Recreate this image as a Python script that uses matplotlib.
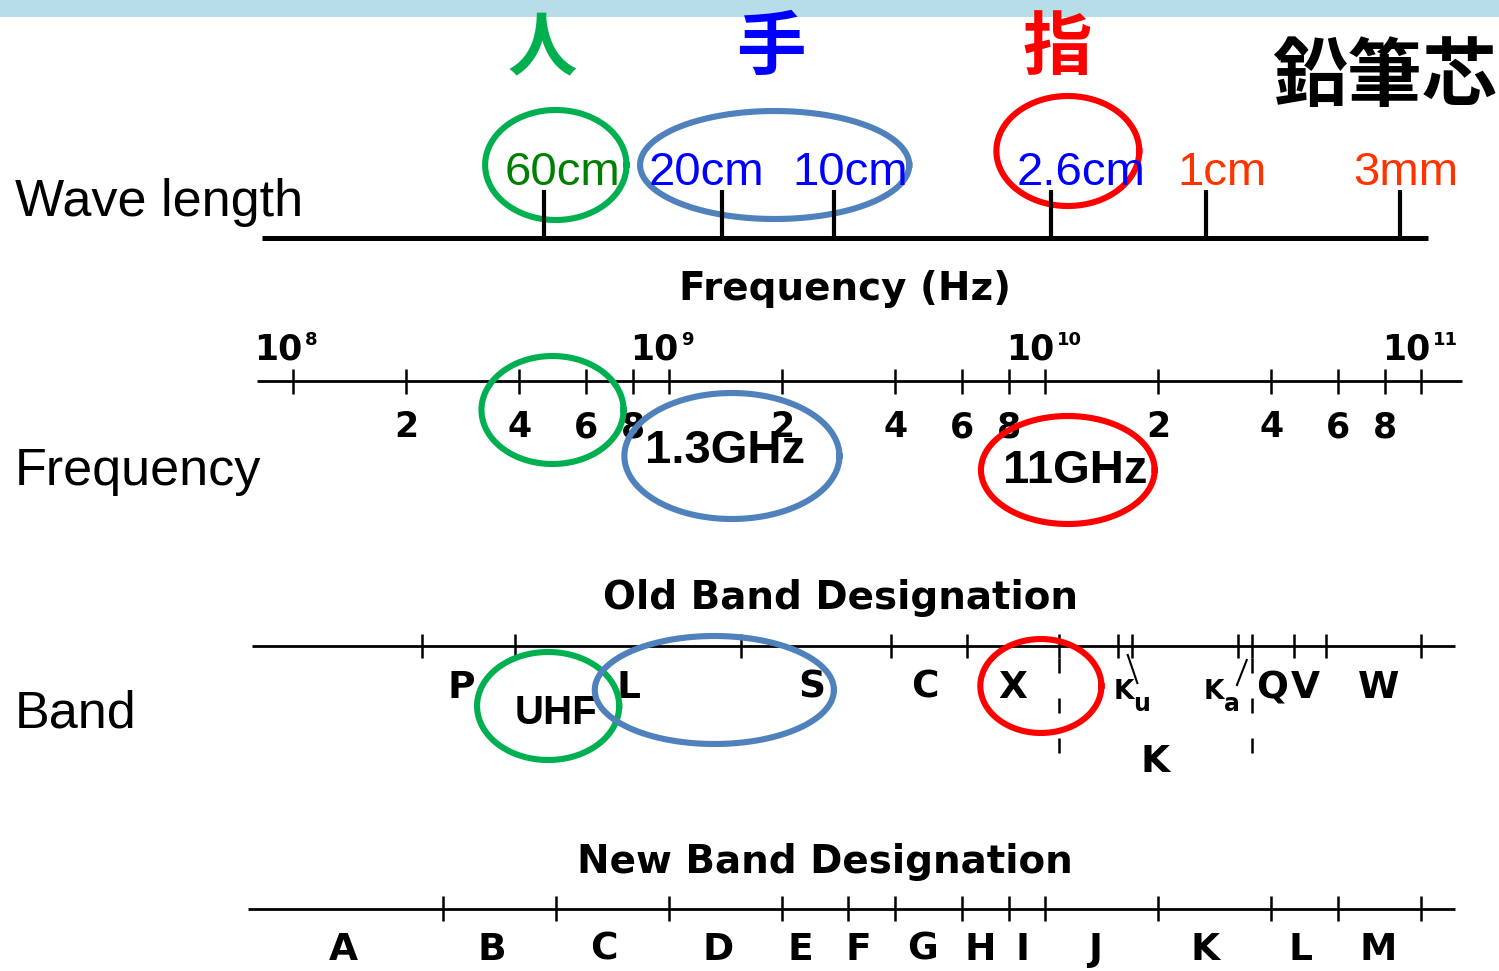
import numpy as np
import matplotlib
matplotlib.use('Agg')
import matplotlib.pyplot as plt

plt.rcParams['font.family'] = ['Liberation Sans', 'DejaVu Sans']
plt.rcParams['mathtext.fontset'] = 'dejavusans'

W, H = 1499, 971
C = 3e8  # m/s

# ---- data ----
wave_m = [0.60, 0.20, 0.10, 0.026, 0.01, 0.003]
wave_labels = ['60cm', '20cm', '10cm', '2.6cm', '1cm', '3mm']
wave_colors = ['#008000', '#0000ff', '#0000ff', '#0000ff', '#ff3300', '#ff3300']

decade_exp = [8, 9, 10, 11]
sub_marks = [2, 4, 6, 8]

old_edges_ghz = [0.22, 0.39, 1.55, 3.9, 6.2, 10.9, 15.6, 17.0, 32.6, 35.5, 46, 56, 100]
old_labels = ['P', 'L', 'S', 'C', 'X', 'Q', 'V', 'W']
old_label_ghz = [0.28, 0.78, 2.4, 4.8, 8.2, 40.2, 49.1, 77]
k_sub_labels = ['u', 'a']          # K_u, K_a
k_sub_ghz = [16.2, 28.1]
k_band_ghz = [10.9, 35.5]         # dashed K band limits
k_label_ghz = 19.6

new_edges_ghz = [0.25, 0.5, 1, 2, 3, 4, 6, 8, 10, 20, 40, 60, 100]
new_labels = ['A', 'B', 'C', 'D', 'E', 'F', 'G', 'H', 'I', 'J', 'K', 'L', 'M']
new_label_ghz = [0.136, 0.338, 0.671, 1.35, 2.24, 3.18, 4.71, 6.72, 8.69, 13.6, 26.7, 47.7, 77]

# highlighted examples
cjk_words = ['人', '手', '指', '鉛筆芯']
cjk_ghz = [0.46, 1.87, 10.8, 80]
cjk_colors = ['#00b050', '#0000ff', '#ff0000', 'black']

circle_colors = ['#00b050', '#4f81bd', '#ff0000']
wave_circle_ghz = [0.50, 1.91, 11.5]
freq_circle_ghz = [0.49, 1.47, 11.5]
band_circle_ghz = [0.477, 1.32, 9.75]
freq_notes = ['1.3GHz', '11GHz']
freq_notes_ghz = [1.41, 12.0]

# ---- layout (pixel rows, ellipse radii) ----
wave_label_dx = [18, -15, 16, 30, 16, 5]
wave_circle_y = [165, 165, 151]
wave_circle_r = [(0.188, 55), (0.358, 54), (0.190, 55)]
freq_circle_y = [410, 456, 470]
freq_circle_r = [(0.189, 54), (0.286, 63), (0.231, 54)]
band_circle_y = [706, 690, 686]
band_circle_r = [(0.189, 54), (0.318, 54), (0.161, 47)]

fig = plt.figure(figsize=(W / 100, H / 100), dpi=100)

ax = fig.add_axes([0, 0, 1, 1])
ax.set_xscale('log')
ax.set_xlim(10 ** 7.22074, 10 ** 11.20745)
ax.set_ylim(H, 0)
ax.axis('off')

# wavelength row uses its own (hand drawn) scale
axw = fig.add_axes([0, 0, 1, 1])
axw.set_xscale('log')
axw.set_xlim(C / 10 ** 7.2365, C / 10 ** 11.2651)
axw.set_ylim(H, 0)
axw.axis('off')
axw.patch.set_alpha(0)

ax.axhspan(0, 17, color='#b7dde8', lw=0)

# wave length
axw.hlines(238, 3.44, 0.00253, color='black', lw=3.6)
axw.vlines(wave_m, 190, 238, color='black', lw=3.0)
for lam, lab, col, dx in zip(wave_m, wave_labels, wave_colors, wave_label_dx):
    axw.annotate(lab, xy=(lam, 185), xytext=(dx, 0), textcoords='offset pixels',
                 ha='center', va='baseline', fontsize=34, color=col)

for word, g, col in zip(cjk_words, cjk_ghz, cjk_colors):
    size = 54 if len(word) > 1 else 50
    y = 78 if len(word) > 1 else 49
    ax.text(g * 1e9, y, word, ha='center', va='center', fontsize=size,
            fontweight='bold', color=col, family=['Noto Sans CJK JP', 'DejaVu Sans'])

fig.text(15 / W, 1 - 216 / H, 'Wave length', fontsize=37.5, va='baseline')
fig.text(15 / W, 1 - 485 / H, 'Frequency', fontsize=37.5, va='baseline')
fig.text(15 / W, 1 - 727 / H, 'Band', fontsize=37.5, va='baseline')

scan = dict(family='DejaVu Sans', fontweight='bold', color='black')

# frequency axis
ax.text(2.94e9, 300, 'Frequency (Hz)', ha='center', va='baseline', fontsize=28, **scan)
ax.hlines(381, 8.0e7, 1.285e11, color='black', lw=2.0)
ticks = []
for e in decade_exp:
    ticks.append(10.0 ** e)
    ax.annotate('10', xy=(10.0 ** e, 360), xytext=(9, 0), textcoords='offset pixels',
                ha='right', va='baseline', fontsize=25, **scan)
    ax.annotate(str(e), xy=(10.0 ** e, 360), xytext=(12, 15), textcoords='offset pixels',
                ha='left', va='baseline', fontsize=13, **scan)
    if e < 11:
        for m in sub_marks:
            ticks.append(m * 10.0 ** e)
            ax.text(m * 10.0 ** e, 437, str(m), ha='center', va='baseline', fontsize=25, **scan)
ax.vlines(ticks, 369, 394, color='black', lw=1.8)

# old bands
ax.text(2.85e9, 609, 'Old Band Designation', ha='center', va='baseline', fontsize=28, **scan)
ax.hlines(646, 7.8e7, 1.23e11, color='black', lw=2.0)
ax.vlines([g * 1e9 for g in old_edges_ghz], 634, 658, color='black', lw=1.8)
for lab, g in zip(old_labels, old_label_ghz):
    ax.text(g * 1e9, 688, lab, ha='center', va='center', fontsize=27, **scan)
for sub, g in zip(k_sub_labels, k_sub_ghz):
    ax.text(g * 1e9, 692, 'K', ha='center', va='center', fontsize=19, **scan)
    ax.annotate(sub, xy=(g * 1e9, 692), xytext=(18, -12), textcoords='offset pixels',
                ha='center', va='center', fontsize=17, **scan)
ax.plot([1.66e10, 1.76e10], [655, 683], color='black', lw=1.5)
ax.plot([3.44e10, 3.24e10], [660, 685], color='black', lw=1.5)
ax.vlines([g * 1e9 for g in k_band_ghz], 658, 770, color='black', lw=1.8,
          linestyles=(0, (6, 10)))
ax.text(k_label_ghz * 1e9, 762, 'K', ha='center', va='center', fontsize=27, **scan)

# new bands
ax.text(2.6e9, 873, 'New Band Designation', ha='center', va='baseline', fontsize=28, **scan)
ax.hlines(909, 7.6e7, 1.23e11, color='black', lw=2.0)
ax.vlines([g * 1e9 for g in new_edges_ghz], 896, 921, color='black', lw=1.8)
for lab, g in zip(new_labels, new_label_ghz):
    ax.text(g * 1e9, 950, lab, ha='center', va='center', fontsize=27, **scan)

# notes
for note, g in zip(freq_notes, freq_notes_ghz):
    y = 451 if note.startswith('1.') else 471
    ax.text(g * 1e9, y, note, ha='center', va='center', fontsize=34, fontweight='bold', zorder=4)
ax.text(0.5e9, 713, 'UHF', ha='center', va='center', fontsize=29, fontweight='bold', zorder=4)

# circles
t = np.linspace(0, 2 * np.pi, 240)
for gs, ys, rs in [(wave_circle_ghz, wave_circle_y, wave_circle_r),
                   (freq_circle_ghz, freq_circle_y, freq_circle_r),
                   (band_circle_ghz, band_circle_y, band_circle_r)]:
    for g, y, (a, b), col in zip(gs, ys, rs, circle_colors):
        ax.plot(g * 1e9 * 10 ** (a * np.cos(t)), y + b * np.sin(t), color=col, lw=4.4, zorder=5)

fig.savefig('out.png', dpi=100)
